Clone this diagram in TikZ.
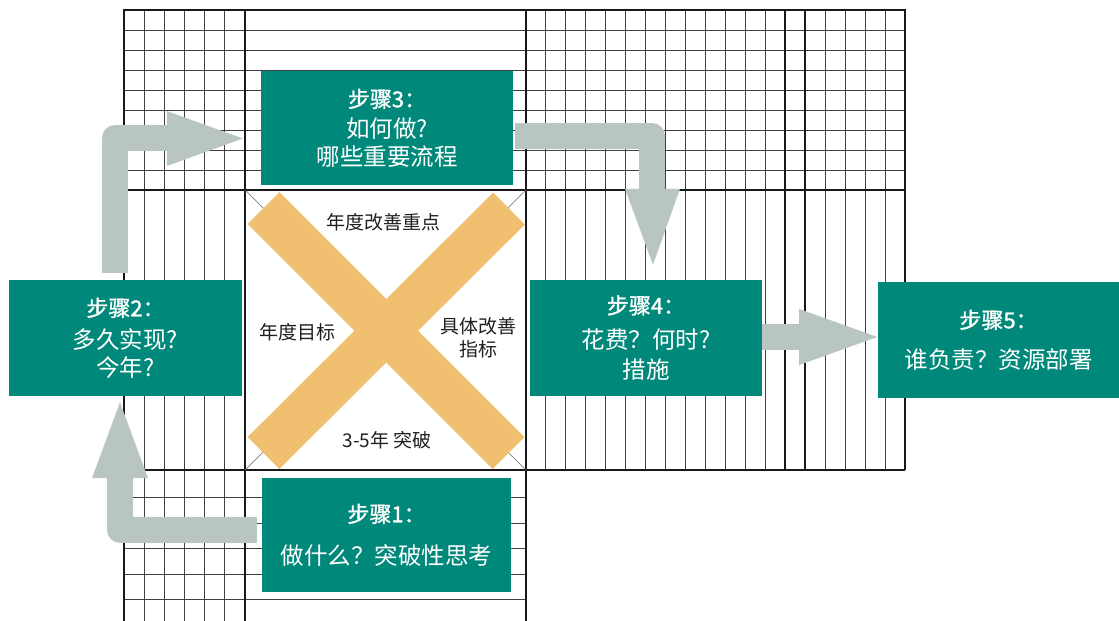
\documentclass[tikz,border=0pt]{standalone}
\usepackage{fontspec}
\newfontfamily\cjk{Noto Sans CJK SC}
\newfontfamily\cjktitle[FakeBold=1.3]{Noto Sans CJK SC}
\usetikzlibrary{calc}
\definecolor{teal1}{RGB}{0,137,122}
\definecolor{arrowgray}{RGB}{185,197,195}
\definecolor{xorange}{RGB}{240,192,112}
\newcommand\steptitle[1]{{\cjktitle\fontsize{22}{28}\selectfont #1}}
\pgfdeclarelayer{bg}
\pgfdeclarelayer{arr}
\pgfsetlayers{bg,arr,main}
\tikzset{
  gridline/.style={draw=black!75, line width=1pt},
  frameline/.style={draw=black!90, line width=2.3pt},
  stepbox/.style={fill=teal1, text=white, inner sep=0pt, align=center,
    font=\cjk\fontsize{23.5}{28}\selectfont},
  xlabel/.style={text=black!88, align=center, font=\cjk\fontsize{19}{23}\selectfont},
  bar/.style={draw=arrowgray, line width=26pt, line join=round},
  head/.style={fill=arrowgray},
  band/.style={draw=xorange, line width=45pt}
}
\begin{document}
\begin{tikzpicture}[x=1pt,y=-1pt]
\useasboundingbox (0,0) rectangle (1119,621);

% step boxes
\node[stepbox, minimum width=252, minimum height=114] (s3) at (387,128)
  {\steptitle{步骤3：}\\[2pt] 如何做?\\ 哪些重要流程};
\node[stepbox, minimum width=233, minimum height=116] (s2) at (125.5,338)
  {\steptitle{步骤2：}\\[4pt] 多久实现?\\ 今年?};
\node[stepbox, minimum width=232, minimum height=116] (s4) at (646,338)
  {\steptitle{步骤4：}\\[7pt] 花费？何时?\\[2pt] 措施};
\node[stepbox, minimum width=241, minimum height=116] (s5) at (998.5,340)
  {\steptitle{步骤5：}\\[12pt] 谁负责？资源部署};
\node[stepbox, minimum width=249, minimum height=114] (s1) at (386.5,535)
  {\steptitle{步骤1：}\\[14pt] 做什么？突破性思考};

\begin{pgfonlayer}{bg}
% thin grid
\foreach \y in {30,50,...,170} \draw[gridline] (124,\y) -- (905,\y);
\foreach \k in {1,...,5} \draw[gridline] ({124+\k*20.17},10) -- ({124+\k*20.17},621);
\foreach \k in {1,...,12,15,16,17,18} \draw[gridline] ({526+\k*19.95},10) -- ({526+\k*19.95},470);
\foreach \y in {497.5,523,548.5,574,599.5} \draw[gridline] (124,\y) -- (526,\y);
% thick frame lines
\draw[frameline] (124,621) -- (124,10) -- (905,10) -- (905,470);
\draw[frameline] (124,190) -- (905,190);
\draw[frameline] (124,470) -- (905,470);
\draw[frameline] (245,10) -- (245,621);
\draw[frameline] (526,10) -- (526,621);
\draw[frameline] (785,10) -- (785,470);
\draw[frameline] (805,10) -- (805,470);
% X
\draw[black!50, line width=0.7pt] (245,190) -- (526,470);
\draw[black!50, line width=0.7pt] (526,190) -- (245,470);
\draw[band] (263.5,208) -- (508.5,453);
\draw[band] (509,208.5) -- (263.5,453);
\end{pgfonlayer}

\node[xlabel] (t1) at (383,222) {年度改善重点};
\node[xlabel] (t2) at (297,332) {年度目标};
\node[xlabel] (t3) at (478,338) {具体改善\\指标};
\node[xlabel] (t4) at (387,440) {3-5年 突破};

\begin{pgfonlayer}{arr}
% step2 -> step3
\draw[bar] ($(s2.north)+(-10.5,-7)$) |- ($(s3.west)+(-92,10)$);
\fill[head] ($(s3.west)+(-94,-17)$) -- ($(s3.west)+(-18,10.5)$) -- ($(s3.west)+(-94,38)$) -- cycle;
% step1 -> step2
\draw[bar] ($(s1.west)+(-5,-5.5)$) -| ($(s2.south)+(-5.5,81)$);
\fill[head] ($(s2.south)+(-33.5,82)$) -- ($(s2.south)+(-5.5,6)$) -- ($(s2.south)+(22.5,82)$) -- cycle;
% step3 -> step4
\draw[bar] ($(s3.east)+(2,8)$) -| ($(s4.north)+(6,-90)$);
\fill[head] ($(s4.north)+(-21,-91)$) -- ($(s4.north)+(7,-15)$) -- ($(s4.north)+(34,-91)$) -- cycle;
% step4 -> step5
\draw[bar] ($(s4.east)+(0,-1)$) -- ($(s4.east)+(39,-1)$);
\fill[head] ($(s4.east)+(37,-29)$) -- ($(s4.east)+(115,-1)$) -- ($(s4.east)+(37,27)$) -- cycle;
\end{pgfonlayer}
\end{tikzpicture}
\end{document}
